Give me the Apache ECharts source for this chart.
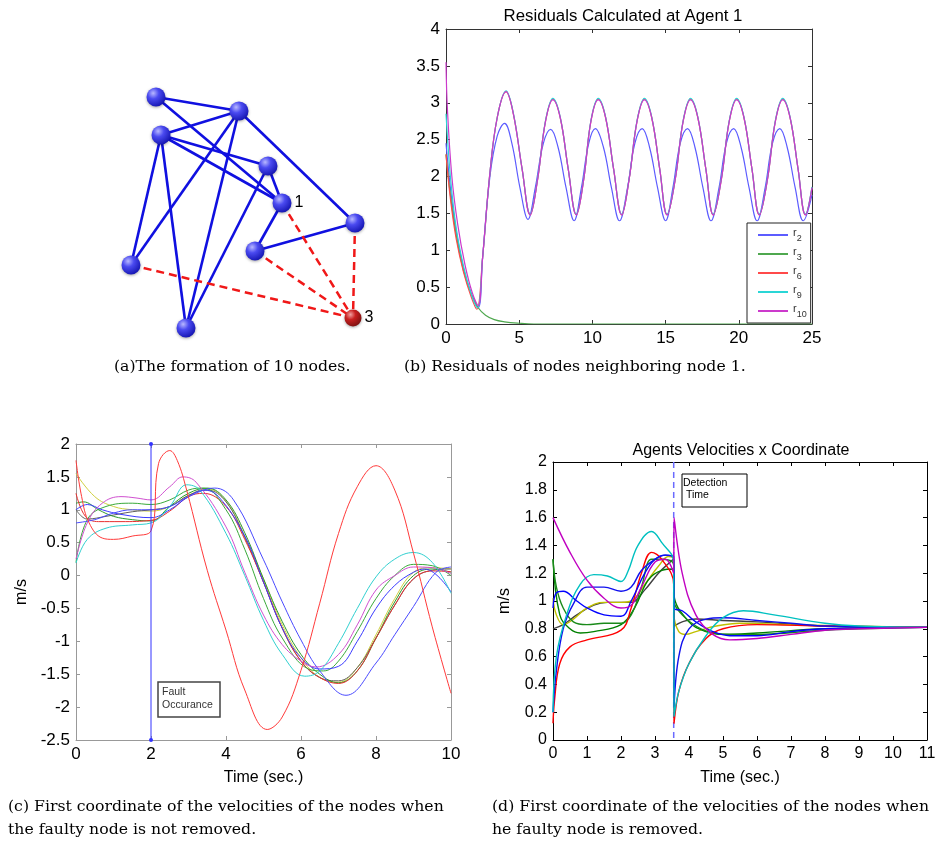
<!DOCTYPE html>
<html lang="en">
<head>
<meta charset="UTF-8">
<title>Formation, residuals and velocities</title>
<script src="https://cdn.jsdelivr.net/npm/echarts@6/dist/echarts.min.js"></script>
<style>html,body{margin:0;padding:0;background:#fff}#main{width:935px;height:843px}</style>
</head>
<body>
<div id="main"></div>
<script>
// ---- (a) formation of 10 nodes (node centres, px) ----
var nodePos = [[156,97],[239,111],[161,135],[268,166],[282,203],[355,223],[255,251],[131,265],[186,328],[353,318]];
var nodeLabel = ['','','','','1','','','','','3'];
var goodLinks = [[0,1],[0,4],[1,2],[1,7],[1,8],[1,5],[2,3],[2,4],[2,7],[2,8],[3,4],[3,8],[4,6],[6,5]];
var faultLinks = [[4,9],[6,9],[5,9],[7,9]];

// ---- (b) residuals at agent 1 ----
var resNames = ['r2','r3','r6','r9','r10'];
var r2 = [[0,2.45],[0.3,1.85],[0.7,1.25],[1.2,0.75],[1.7,0.42],[2.2,0.22],[2.5,0.9],[3,2.0],[3.5,2.55],[4,2.72],[4.5,2.45],[5.05,1.85],[5.6,1.42],[6.1,1.85],[6.65,2.45],[7.15,2.64],[7.65,2.4],[8.2,1.85],[8.75,1.4],[9.25,1.85],[9.75,2.45],[10.2,2.65],[10.75,2.4],[11.3,1.85],[11.85,1.4],[12.4,1.85],[12.9,2.45],[13.4,2.65],[13.9,2.4],[14.45,1.85],[15.0,1.4],[15.5,1.85],[16.0,2.45],[16.5,2.65],[17.0,2.4],[17.55,1.85],[18.1,1.4],[18.65,1.85],[19.15,2.45],[19.65,2.65],[20.15,2.4],[20.7,1.85],[21.25,1.4],[21.8,1.85],[22.3,2.45],[22.8,2.65],[23.3,2.4],[23.85,1.85],[24.4,1.4],[25,1.75]];
var r3 = [[0,2.3],[0.3,1.75],[0.7,1.2],[1.2,0.72],[1.7,0.42],[2.2,0.22],[2.7,0.12],[3.3,0.06],[4,0.03],[5,0.01],[6,0],[25,0]];
var r6 = [[0,2.3],[0.3,1.7],[0.7,1.15],[1.2,0.7],[1.7,0.38],[2.1,0.2],[2.5,0.9],[3,2.05],[3.5,2.8],[4.1,3.15],[4.6,2.85],[5.2,2.1],[5.75,1.48],[6.25,1.95],[6.8,2.75],[7.3,3.05],[7.8,2.8],[8.35,2.1],[8.9,1.48],[9.4,1.95],[9.9,2.75],[10.4,3.05],[10.9,2.8],[11.45,2.1],[12.0,1.48],[12.5,1.95],[13.05,2.75],[13.55,3.05],[14.05,2.8],[14.6,2.1],[15.1,1.48],[15.65,1.95],[16.2,2.75],[16.7,3.05],[17.2,2.8],[17.75,2.1],[18.25,1.48],[18.8,1.95],[19.35,2.75],[19.85,3.05],[20.35,2.8],[20.9,2.1],[21.4,1.48],[21.95,1.95],[22.5,2.75],[23.0,3.05],[23.5,2.8],[24.05,2.1],[24.55,1.48],[25,1.85]];
var r9 = [[0,2.85],[0.3,2.0],[0.7,1.3],[1.2,0.78],[1.7,0.42],[2.15,0.22],[2.5,0.9],[3,2.05],[3.5,2.8],[4.1,3.16],[4.6,2.86],[5.2,2.1],[5.75,1.49],[6.25,1.96],[6.8,2.76],[7.3,3.06],[7.8,2.81],[8.35,2.1],[8.9,1.49],[9.4,1.96],[9.9,2.76],[10.4,3.06],[10.9,2.81],[11.45,2.1],[12.0,1.49],[12.5,1.96],[13.05,2.76],[13.55,3.06],[14.05,2.81],[14.6,2.1],[15.1,1.49],[15.65,1.96],[16.2,2.76],[16.7,3.06],[17.2,2.81],[17.75,2.1],[18.25,1.49],[18.8,1.96],[19.35,2.76],[19.85,3.06],[20.35,2.81],[20.9,2.1],[21.4,1.49],[21.95,1.96],[22.5,2.76],[23.0,3.06],[23.5,2.81],[24.05,2.1],[24.55,1.49],[25,1.86]];
var r10 = [[0,3.55],[0.1,2.9],[0.4,2.0],[0.8,1.35],[1.3,0.8],[1.8,0.42],[2.2,0.25],[2.5,0.9],[3,2.05],[3.5,2.8],[4.1,3.15],[4.6,2.85],[5.2,2.1],[5.75,1.48],[6.25,1.95],[6.8,2.75],[7.3,3.04],[7.8,2.8],[8.35,2.1],[8.9,1.48],[9.4,1.95],[9.9,2.75],[10.4,3.04],[10.9,2.8],[11.45,2.1],[12.0,1.48],[12.5,1.95],[13.05,2.75],[13.55,3.04],[14.05,2.8],[14.6,2.1],[15.1,1.48],[15.65,1.95],[16.2,2.75],[16.7,3.04],[17.2,2.8],[17.75,2.1],[18.25,1.48],[18.8,1.95],[19.35,2.75],[19.85,3.04],[20.35,2.8],[20.9,2.1],[21.4,1.48],[21.95,1.95],[22.5,2.75],[23.0,3.04],[23.5,2.8],[24.05,2.1],[24.55,1.48],[25,1.85]];
var resColors = ['#5c5cff','#4fa84f','#ff4a4a','#2ad6d6','#cc3acc'];

// ---- (c) velocities, faulty node kept ----
var cFaulty = [[0,1.75],[0.15,1.2],[0.35,0.8],[0.7,0.57],[1,0.55],[1.5,0.6],[2,0.68],[2.2,1.7],[2.5,1.9],[2.7,1.75],[2.95,1.3],[3.5,0.08],[4,-0.83],[4.5,-1.74],[5.1,-2.34],[5.5,-2.15],[6,-1.44],[6.5,-0.42],[7,0.64],[7.5,1.35],[8,1.67],[8.5,1.3],[9,0.34],[9.5,-0.78],[10,-1.79]];
var cRed = [[0,1.25],[0.25,0.9],[0.6,0.82],[1.2,0.82],[2,0.84],[2.5,0.98],[3,1.2],[3.4,1.25],[4,1.05],[4.5,0.55],[5,-0.1],[5.5,-0.8],[6,-1.3],[6.5,-1.55],[7,-1.64],[7.5,-1.45],[8,-0.95],[8.5,-0.45],[9,-0.05],[9.5,0.07],[10,0.06]];
var cCyan = [[0,0.19],[0.3,0.55],[0.8,0.72],[1.5,0.77],[2,0.8],[2.5,1.05],[2.95,1.38],[3.3,1.3],[4,0.64],[4.5,0.0],[5,-0.68],[5.5,-1.2],[6.1,-1.53],[6.5,-1.45],[7,-1.03],[7.5,-0.5],[8,-0.02],[8.5,0.25],[9,0.35],[9.5,0.2],[10,-0.27]];
var cMagenta = [[0,0.25],[0.3,0.8],[0.7,1.1],[1.2,1.2],[1.6,1.18],[2,1.15],[2.5,1.35],[2.85,1.5],[3.2,1.42],[4,0.74],[4.5,0.05],[5,-0.6],[5.5,-1.05],[6,-1.3],[6.4,-1.39],[7,-1.2],[7.5,-0.75],[8,-0.22],[8.5,0.0],[9,0.13],[9.5,0.12],[10,0.03]];
var cBlue1 = [[0,0.8],[0.5,0.85],[1,0.95],[1.5,1.0],[2,1.0],[2.5,1.05],[3,1.2],[3.7,1.33],[4.2,1.15],[5,0.24],[5.5,-0.4],[6,-0.98],[6.5,-1.45],[7.2,-1.82],[8,-1.33],[8.5,-0.9],[9,-0.47],[9.6,0.05],[10,0.13]];
var cBlue2 = [[0,1.0],[0.3,1.08],[0.7,1.0],[1.2,0.93],[2,0.88],[2.5,1.0],[3,1.2],[3.4,1.3],[3.8,1.2],[4.5,0.6],[5,-0.1],[5.5,-0.8],[6,-1.25],[6.5,-1.42],[7,-1.38],[7.5,-1.0],[8,-0.5],[8.5,-0.15],[9,0.05],[9.3,0.1],[10,-0.25]];
var cGreen1 = [[0,0.2],[0.3,0.85],[0.8,1.05],[1.5,1.1],[2,1.08],[2.5,1.15],[3,1.3],[3.4,1.33],[4,1.0],[4.5,0.4],[5,-0.35],[5.5,-0.95],[6.2,-1.42],[6.6,-1.45],[7,-1.3],[7.5,-0.85],[8,-0.35],[8.5,0.0],[9,0.17],[9.5,0.15],[10,0.0]];
var cGreen2 = [[0,1.1],[0.2,1.12],[0.6,1.0],[1,0.9],[1.5,0.85],[2,0.83],[2.5,1.05],[3,1.25],[3.5,1.33],[4,1.15],[4.5,0.65],[5,-0.05],[5.5,-0.7],[6,-1.2],[6.5,-1.5],[7,-1.63],[7.5,-1.45],[8,-0.95],[8.5,-0.4],[9,0.0],[9.5,0.1],[10,0.05]];
var cYellow = [[0,1.55],[0.5,1.2],[1,1.05],[1.5,1.0],[2,0.98],[2.5,1.05],[3,1.22],[3.5,1.32],[4,1.13],[4.5,0.6],[5,-0.05],[5.5,-0.75],[6,-1.25],[6.5,-1.55],[7,-1.62],[7.5,-1.4],[8,-0.9],[8.5,-0.35],[9,0.05],[9.5,0.12],[10,0.1]];
var cGray = [[0,1.0],[0.15,0.9],[0.3,0.86],[0.8,0.9],[1.5,0.97],[2,1.0],[2.5,1.05],[3,1.22],[3.5,1.3],[4,1.12],[4.5,0.58],[5,-0.1],[5.5,-0.8],[6,-1.3],[6.5,-1.55],[7,-1.6],[7.5,-1.4],[8,-0.95],[8.5,-0.45],[9,-0.05],[9.5,0.08],[10,0.1]];
var faultTime = 2;

// ---- (d) velocities, faulty node removed ----
var dMagenta = [[0,1.6],[0.5,1.35],[1,1.15],[1.5,1.02],[2,0.95],[2.3,0.97],[2.6,1.1],[3,1.28],[3.3,1.3],[3.55,1.2],[3.56,1.6],[3.8,1.2],[4.2,0.9],[4.7,0.76],[5.2,0.72],[6,0.73],[7,0.76],[8,0.79],[9,0.8],[11,0.81]];
var dCyan = [[0,0.2],[0.1,0.6],[0.4,0.9],[0.8,1.12],[1.2,1.19],[1.6,1.18],[2,1.14],[2.2,1.21],[2.5,1.4],[2.9,1.5],[3.2,1.42],[3.55,1.28],[3.56,0.17],[3.7,0.35],[4,0.55],[4.5,0.75],[5,0.88],[5.6,0.93],[6.5,0.9],[8,0.84],[9,0.82],[11,0.81]];
var dRed = [[0,0.12],[0.05,0.3],[0.2,0.55],[0.5,0.67],[1,0.72],[2,0.79],[2.3,0.95],[2.6,1.2],[2.9,1.35],[3.2,1.3],[3.55,1.12],[3.56,0.12],[3.7,0.35],[4,0.55],[4.5,0.73],[5,0.8],[6,0.83],[8,0.82],[11,0.81]];
var dBlue1 = [[0,0.95],[0.1,1.06],[0.3,1.07],[0.7,1.0],[1,0.95],[1.5,0.9],[2,0.89],[2.3,1.0],[2.7,1.2],[3.0,1.3],[3.3,1.33],[3.55,1.32],[3.56,0.95],[3.8,0.93],[4.2,0.85],[4.7,0.78],[5.2,0.75],[6,0.75],[7,0.78],[8,0.8],[11,0.81]];
var dBlue2 = [[0,0.2],[0.1,0.5],[0.3,0.8],[0.6,0.98],[1,1.1],[1.5,1.1],[2,1.07],[2.3,1.1],[2.6,1.22],[3,1.3],[3.3,1.33],[3.55,1.3],[3.56,0.24],[3.7,0.6],[4,0.8],[4.5,0.87],[5,0.88],[6,0.86],[7,0.84],[8,0.82],[11,0.81]];
var dGreen1 = [[0,1.3],[0.1,1.1],[0.3,0.95],[0.6,0.85],[1,0.83],[1.5,0.84],[2,0.84],[2.3,0.9],[2.6,1.1],[2.9,1.3],[3.2,1.3],[3.55,1.26],[3.56,1.0],[3.8,0.9],[4.2,0.82],[4.7,0.77],[5.2,0.76],[6,0.76],[8,0.79],[11,0.81]];
var dGreen2 = [[0,1.3],[0.2,0.9],[0.5,0.8],[0.8,0.77],[1.2,0.78],[2,0.83],[2.4,0.95],[2.8,1.15],[3.2,1.22],[3.55,1.23],[3.56,1.05],[4,0.85],[4.5,0.78],[5,0.76],[6,0.77],[8,0.8],[11,0.81]];
var dYellow = [[0,1.02],[0.1,0.9],[0.3,0.83],[0.6,0.87],[1,0.95],[1.5,0.99],[2,0.99],[2.3,1.0],[2.7,1.12],[3.1,1.25],[3.4,1.32],[3.55,1.3],[3.56,0.9],[3.7,0.78],[3.9,0.76],[4.2,0.78],[4.8,0.82],[5.5,0.84],[7,0.83],[11,0.81]];
var dGray = [[0,0.8],[0.3,0.83],[0.7,0.9],[1.2,0.97],[1.6,0.99],[2,0.99],[2.3,0.99],[2.7,1.08],[3.1,1.2],[3.4,1.27],[3.55,1.3],[3.56,0.82],[3.8,0.85],[4.2,0.87],[5,0.86],[6,0.85],[8,0.82],[11,0.81]];
var detectTime = 3.55;

var sans = 'Liberation Sans, Arial, sans-serif';
var serif = 'DejaVu Serif, serif';
var myChart = echarts.init(document.getElementById('main'));

var grids = [
    {left: 0, top: 0, right: 0, bottom: 0, outerBoundsMode: 'none'},
    {left: 446, top: 29, width: 366, height: 295, outerBoundsMode: 'none'},
    {left: 76, top: 444, width: 375, height: 296, outerBoundsMode: 'none'},
    {left: 553, top: 462, width: 374, height: 278, outerBoundsMode: 'none'}
];
var xAxes = [{gridIndex: 0, type: 'value', min: 0, max: 935, show: false}];
var yAxes = [{gridIndex: 0, type: 'value', min: 0, max: 843, inverse: true, show: false}];

// box style axes: labelled bottom/left, bare ticks top/right
function boxAxes(g, xr, yr, frame, fs, xName, yName, yGap) {
    var tick = {show: true, inside: true, length: 4, lineStyle: {color: frame}};
    var line = {show: true, onZero: false, lineStyle: {color: frame, width: 1}};
    var lab = {color: '#000', fontSize: fs, fontFamily: sans, margin: 6};
    var nameStyle = {color: '#000', fontSize: 16, fontFamily: sans};
    xAxes.push({gridIndex: g, type: 'value', min: xr[0], max: xr[1], interval: xr[2],
        axisLine: line, axisTick: tick, axisLabel: lab, splitLine: {show: false},
        name: xName, nameLocation: 'middle', nameGap: 30, nameTextStyle: nameStyle});
    xAxes.push({gridIndex: g, type: 'value', position: 'top', min: xr[0], max: xr[1], interval: xr[2],
        axisLine: line, axisTick: tick, axisLabel: {show: false}, splitLine: {show: false}});
    yAxes.push({gridIndex: g, type: 'value', min: yr[0], max: yr[1], interval: yr[2],
        axisLine: line, axisTick: tick, axisLabel: lab, splitLine: {show: false},
        name: yName, nameLocation: 'middle', nameGap: yGap, nameRotate: 90, nameTextStyle: nameStyle});
    yAxes.push({gridIndex: g, type: 'value', position: 'right', min: yr[0], max: yr[1], interval: yr[2],
        axisLine: line, axisTick: tick, axisLabel: {show: false}, splitLine: {show: false}});
}
boxAxes(1, [0, 25, 5], [0, 4, 0.5], '#333', 17, '', '', 30);
boxAxes(2, [0, 10, 2], [-2.5, 2, 0.5], '#999', 17, 'Time (sec.)', 'm/s', 46);
boxAxes(3, [0, 11, 1], [0, 2, 0.2], '#000', 16, 'Time (sec.)', 'm/s', 40);

function lineSeries(name, data, color, g, width) {
    return {name: name, type: 'line', data: data, xAxisIndex: 2 * g - 1, yAxisIndex: 2 * g - 1,
        symbol: 'none', smooth: 0.4, animation: false,
        lineStyle: {color: color, width: width}, itemStyle: {color: color}};
}

function ball(c1, c2, c3) {
    return {type: 'radial', x: 0.35, y: 0.3, r: 0.75,
        colorStops: [{offset: 0, color: c1}, {offset: 0.4, color: c2}, {offset: 1, color: c3}]};
}

var nodes = nodePos.map(function (p, i) {
    var bad = i === 9;
    return {
        value: p,
        symbolSize: bad ? 17 : 19,
        itemStyle: {color: bad ? ball('#f0a0a0', '#c82020', '#7a1010') : ball('#b8b8ff', '#4a4af0', '#1414b0'),
            shadowBlur: 3, shadowColor: 'rgba(0,0,0,0.35)', shadowOffsetY: 1},
        label: {show: nodeLabel[i] !== '', formatter: nodeLabel[i], position: 'right', distance: 3,
            color: '#000', fontSize: 16, fontFamily: sans}
    };
});
var links = goodLinks.map(function (l) {
    return {source: l[0], target: l[1], lineStyle: {color: '#1010e0', width: 2.6, type: 'solid'}};
}).concat(faultLinks.map(function (l) {
    return {source: l[0], target: l[1], lineStyle: {color: '#f01818', width: 2.5, type: [8, 5]}};
}));

var series = [{
    type: 'graph', coordinateSystem: 'cartesian2d', xAxisIndex: 0, yAxisIndex: 0, layout: 'none',
    symbol: 'circle', data: nodes, links: links, animation: false, lineStyle: {opacity: 1, curveness: 0}
}];

var resData = [r2, r3, r6, r9, r10];
resNames.forEach(function (n, i) {
    series.push(lineSeries(n, resData[i], resColors[i], 1, 1.2));
});

var cData = [cYellow, cGray, cGreen2, cRed, cGreen1, cBlue2, cMagenta, cCyan, cBlue1, cFaulty];
var cColors = ['#d0d040', '#606060', '#2a9a2a', '#e83030', '#3aaa3a', '#3a3aff', '#d050d0', '#30d0d0', '#4a4aff', '#ff3a3a'];
cData.forEach(function (d, i) {
    series.push(lineSeries('c' + i, d, cColors[i], 2, 1));
});
series.push({name: 'fault', type: 'line', xAxisIndex: 3, yAxisIndex: 3, data: [[faultTime, 2], [faultTime, -2.5]],
    symbol: 'circle', symbolSize: 4, showSymbol: true, animation: false,
    lineStyle: {color: '#3333ff', width: 1}, itemStyle: {color: '#3333ff'}});

var dData = [dGray, dYellow, dGreen2, dGreen1, dRed, dBlue1, dBlue2, dCyan, dMagenta];
var dColors = ['#404040', '#c0c000', '#008000', '#1a8a1a', '#ff0000', '#0000ff', '#1010ee', '#00c0c0', '#c000c0'];
dData.forEach(function (d, i) {
    series.push(lineSeries('d' + i, d, dColors[i], 3, 1.4));
});
series.push({name: 'detect', type: 'line', xAxisIndex: 5, yAxisIndex: 5, data: [[detectTime, 2], [detectTime, 0]],
    symbol: 'none', animation: false, z: 1, lineStyle: {color: '#6a6aff', width: 1.5, type: [6, 4]}});

function txt(x, y, s, font, align) {
    return {type: 'text', x: x, y: y, z: 10,
        style: {text: s, font: font, fill: '#000', align: align || 'left', verticalAlign: 'middle'}};
}

option = {
    backgroundColor: '#fff',
    animation: false,
    grid: grids,
    xAxis: xAxes,
    yAxis: yAxes,
    legend: {
        data: resNames, orient: 'vertical', left: 747, top: 223,
        itemWidth: 30, itemHeight: 12, itemGap: 3, padding: [4, 4, 4, 10],
        backgroundColor: '#fff', borderColor: '#222', borderWidth: 1, z: 10,
        itemStyle: {opacity: 0},
        formatter: function (n) { return '{a|r}{b|' + n.slice(1) + '}'; },
        textStyle: {rich: {
            a: {fontSize: 11, fontFamily: sans, color: '#333', verticalAlign: 'top', lineHeight: 16},
            b: {fontSize: 9, fontFamily: sans, color: '#333', verticalAlign: 'bottom', lineHeight: 16}
        }}
    },
    graphic: [
        txt(623, 16, 'Residuals Calculated at Agent 1', '16.8px ' + sans, 'center'),
        txt(741, 451, 'Agents Velocities x Coordinate', '16px ' + sans, 'center'),
        txt(114, 367, '(a)The formation of 10 nodes.', '15.7px ' + serif),
        txt(404, 367, '(b) Residuals of nodes neighboring node 1.', '15.7px ' + serif),
        txt(8, 807, '(c) First coordinate of the velocities of the nodes when', '15.7px ' + serif),
        txt(8, 830, 'the faulty node is not removed.', '15.7px ' + serif),
        txt(492, 807, '(d) First coordinate of the velocities of the nodes when', '15.7px ' + serif),
        txt(492, 830, 'he faulty node is removed.', '15.7px ' + serif),
        {type: 'rect', z: 10, shape: {x: 158, y: 682, width: 62, height: 35},
            style: {fill: '#fff', stroke: '#444', lineWidth: 1.5}},
        {type: 'text', z: 11, x: 162, y: 686,
            style: {text: 'Fault\nOccurance', font: '10.5px ' + sans, fill: '#333', lineHeight: 13}},
        {type: 'rect', z: 10, shape: {x: 682, y: 474, width: 65, height: 33},
            style: {fill: '#fff', stroke: '#000', lineWidth: 1}},
        {type: 'text', z: 11, x: 683, y: 477,
            style: {text: 'Detection\n Time', font: '10.5px ' + sans, fill: '#000', lineHeight: 12}}
    ],
    series: series
};
myChart.setOption(option);
</script>
</body>
</html>
